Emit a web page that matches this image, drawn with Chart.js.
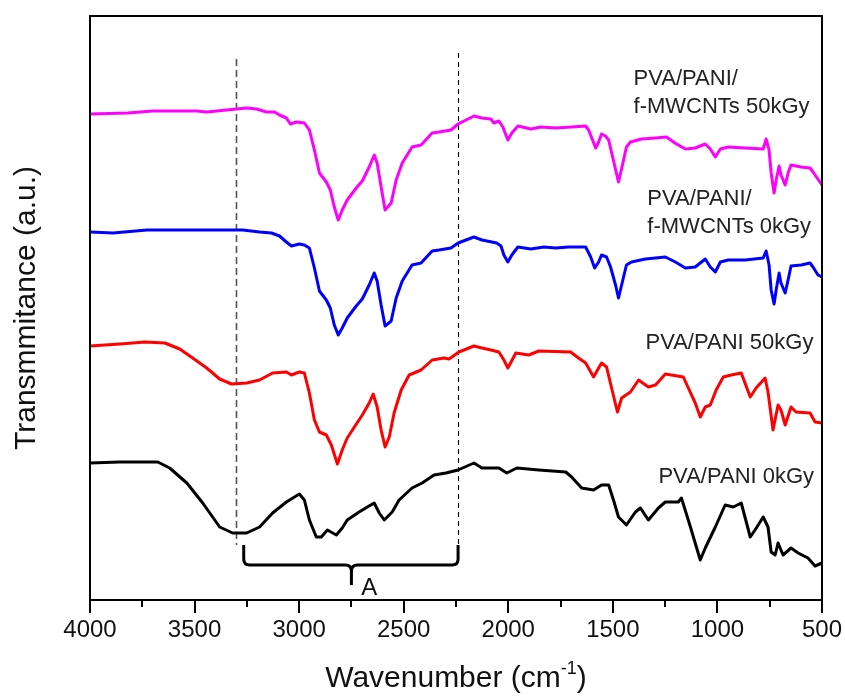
<!DOCTYPE html>
<html><head><meta charset="utf-8">
<script src="https://cdn.jsdelivr.net/npm/chart.js@4/dist/chart.umd.min.js"></script>
<style>html,body{margin:0;padding:0;background:#fff}</style>
</head><body>
<canvas id="c" width="845" height="697"></canvas>
<script>
// ---- data (wavenumber in cm-1, transmittance in arbitrary offset units) ----
const wnMag = [4000,3819,3700,3490,3442,3299,3251,3204,3156,3118,3094,3061,3042,3013,2975,2951,2927,2903,2870,2851,2832,2813,2794,2770,2727,2698,2665,2641,2627,2608,2589,2560,2536,2507,2460,2417,2364,2331,2274,2240,2164,2126,2083,2069,2045,2026,2002,1983,1954,1892,1845,1773,1697,1630,1616,1597,1582,1568,1554,1535,1520,1501,1473,1454,1435,1416,1363,1296,1244,1196,1153,1106,1058,1034,1010,986,948,867,781,767,753,743,729,719,705,696,676,662,648,600,557,543,500];
const tMag = [486,487,489,489,488,491,492,491,488,488,485,482,476,478,477,470,450,427,418,410,393,380,390,400,412,419,433,445,437,413,390,397,420,437,453,455,467,468,470,476,484,482,481,477,479,473,460,467,474,471,473,472,473,474,470,460,452,458,466,464,460,443,418,435,453,458,461,462,463,456,451,452,456,451,443,451,453,452,451,461,450,427,407,420,434,425,415,427,435,433,432,428,415];

const wnBlue = [4000,3890,3728,3571,3299,3270,3189,3132,3094,3061,3037,2999,2975,2951,2927,2903,2870,2851,2832,2813,2794,2770,2727,2698,2665,2641,2627,2608,2589,2560,2536,2507,2460,2417,2364,2331,2274,2240,2164,2126,2055,2035,2021,2002,1983,1954,1892,1830,1773,1711,1630,1606,1587,1568,1554,1530,1511,1487,1473,1458,1435,1411,1344,1249,1201,1153,1106,1058,1034,1010,986,948,867,781,767,753,743,729,719,705,696,676,662,648,600,557,543,519,500];
const tBlue = [368,367,370,370,370,370,368,367,364,358,354,356,355,352,332,309,300,292,275,265,272,282,294,301,315,327,319,295,274,279,302,319,335,337,349,350,352,357,363,360,357,354,345,338,345,353,351,353,352,353,353,343,332,338,345,343,333,315,302,315,335,338,341,343,338,332,333,341,333,328,338,340,340,342,349,335,310,296,310,327,317,307,320,334,335,337,333,325,323];

const wnRed = [4000,3857,3738,3642,3571,3509,3442,3380,3323,3251,3189,3127,3061,3037,2999,2975,2951,2927,2903,2870,2846,2817,2794,2770,2736,2698,2665,2646,2627,2608,2589,2569,2546,2512,2474,2417,2364,2307,2283,2236,2164,2126,2083,2045,2021,2002,1964,1902,1854,1702,1664,1630,1592,1568,1554,1530,1506,1478,1458,1416,1377,1330,1296,1249,1220,1163,1139,1106,1082,1058,1034,1006,972,934,886,843,815,772,758,734,710,696,676,648,624,557,533,500];
const tRed = [254,256,258,257,251,242,232,221,216,217,220,227,228,225,228,227,207,180,168,165,155,136,150,162,173,185,197,206,193,170,153,163,187,210,225,230,240,242,241,248,254,252,250,248,240,232,247,245,249,248,242,237,223,232,237,233,212,188,202,208,220,213,215,226,225,223,212,197,183,193,195,210,223,225,227,203,212,222,208,170,195,190,175,193,188,187,178,177];

const wnBlack = [4000,3857,3676,3619,3537,3461,3380,3318,3251,3189,3127,3061,2999,2975,2951,2918,2894,2865,2822,2794,2770,2713,2674,2641,2617,2593,2555,2522,2460,2412,2355,2298,2240,2164,2126,2045,2007,1959,1854,1725,1697,1649,1592,1554,1520,1497,1473,1435,1392,1368,1330,1282,1249,1187,1172,1129,1082,1058,1010,963,924,886,843,820,781,758,743,724,710,686,648,614,567,533,500];
const tBlack = [137,138,138,132,117,97,73,67,67,73,87,98,106,100,80,63,63,70,65,72,80,88,93,97,87,80,88,100,112,117,125,127,130,137,132,132,127,132,130,128,123,112,110,115,115,100,83,75,88,92,80,92,98,98,102,73,40,52,73,95,93,97,63,70,83,73,48,45,57,45,52,47,42,34,37];

const seriesNames = ['PVA/PANI/f-MWCNTs 50kGy','PVA/PANI/f-MWCNTs 0kGy','PVA/PANI 50kGy','PVA/PANI 0kGy'];
const seriesColors = ['#ff00ff','#0000ff','#ff0000','#000000'];
const xMajorTicks = [4000,3500,3000,2500,2000,1500,1000,500];
const xMinorTicks = [3750,3250,2750,2250,1750,1250,750];
const markerLines = [3300, 2240];

const FONT = "'Liberation Sans', Arial, sans-serif";
const toPts = (xs, ys) => xs.map((x, i) => ({x, y: ys[i]}));
const seriesData = [toPts(wnMag,tMag), toPts(wnBlue,tBlue), toPts(wnRed,tRed), toPts(wnBlack,tBlack)];

const decor = {
  id: 'decor',
  beforeDatasetsDraw(chart) {
    const {ctx, scales: {x, y}} = chart;
    ctx.save();
    const tops = [541, 547];
    const styles = [{c:'#555', w:1.6, d:[7,4]}, {c:'#000', w:1.1, d:[5,4]}];
    markerLines.forEach((v, i) => {
      const px = Math.round(x.getPixelForValue(v)) + 0.5;
      ctx.strokeStyle = styles[i].c; ctx.lineWidth = styles[i].w; ctx.setLineDash(styles[i].d);
      ctx.beginPath(); ctx.moveTo(px, y.getPixelForValue(tops[i])); ctx.lineTo(px, y.getPixelForValue(55)); ctx.stroke();
    });
    ctx.restore();
  },
  afterDraw(chart) {
    const {ctx, chartArea: a, scales: {x, y}} = chart;
    ctx.save();
    ctx.strokeStyle = '#000'; ctx.lineWidth = 2; ctx.setLineDash([]);
    ctx.strokeRect(a.left, a.top, a.right - a.left, a.bottom - a.top);
    xMinorTicks.forEach(v => {
      const px = Math.round(x.getPixelForValue(v));
      ctx.beginPath(); ctx.moveTo(px, a.bottom); ctx.lineTo(px, a.bottom + 7); ctx.stroke();
    });
    // bracket "A"
    const x0 = x.getPixelForValue(3265), x1 = x.getPixelForValue(2240), xm = x.getPixelForValue(2750);
    const yt = y.getPixelForValue(55), yb = y.getPixelForValue(35), yn = y.getPixelForValue(15);
    const r = 6;
    ctx.lineWidth = 3; ctx.lineJoin = 'round'; ctx.lineCap = 'butt';
    ctx.beginPath();
    ctx.moveTo(x0, yt); ctx.lineTo(x0, yb - r); ctx.quadraticCurveTo(x0, yb, x0 + r, yb);
    ctx.lineTo(xm - r, yb); ctx.quadraticCurveTo(xm, yb, xm, yb + r); ctx.lineTo(xm, yn);
    ctx.moveTo(xm, yb + r); ctx.quadraticCurveTo(xm, yb, xm + r, yb);
    ctx.lineTo(x1 - r, yb); ctx.quadraticCurveTo(x1, yb, x1, yb - r); ctx.lineTo(x1, yt);
    ctx.stroke();
    ctx.fillStyle = '#111';
    ctx.font = `24px ${FONT}`; ctx.textBaseline = 'alphabetic'; ctx.textAlign = 'center';
    ctx.fillText('A', x.getPixelForValue(2665), y.getPixelForValue(5));
    // curve labels
    ctx.textAlign = 'left'; ctx.font = `22px ${FONT}`; ctx.fillStyle = '#222';
    const labels = [
      ['PVA/PANI/', 1401, 515], ['f-MWCNTs 50kGy', 1401, 487],
      ['PVA/PANI/', 1335, 395], ['f-MWCNTs 0kGy', 1335, 367],
      ['PVA/PANI 50kGy', 1344, 251], ['PVA/PANI 0kGy', 1282, 117]
    ];
    labels.forEach(([t, wx, wy]) => ctx.fillText(t, x.getPixelForValue(wx), y.getPixelForValue(wy)));
    // x-axis title with superscript
    ctx.fillStyle = '#111';
    const main = 'Wavenumber (cm', sup = '-1', end = ')';
    ctx.font = `30px ${FONT}`; const w1 = ctx.measureText(main).width, w3 = ctx.measureText(end).width;
    ctx.font = `18px ${FONT}`; const w2 = ctx.measureText(sup).width;
    const cx = (a.left + a.right) / 2, base = 687;
    const sx = cx - (w1 + w2 + w3) / 2;
    ctx.font = `30px ${FONT}`; ctx.fillText(main, sx, base);
    ctx.font = `18px ${FONT}`; ctx.fillText(sup, sx + w1, base - 13);
    ctx.font = `30px ${FONT}`; ctx.fillText(end, sx + w1 + w2, base);
    ctx.restore();
  }
};

new Chart(document.getElementById('c'), {
  type: 'line',
  data: {
    datasets: seriesData.map((d, i) => ({
      label: seriesNames[i], data: d, borderColor: seriesColors[i], backgroundColor: seriesColors[i],
      borderWidth: 3, pointRadius: 0, tension: 0, fill: false, borderJoinStyle: 'round'
    }))
  },
  options: {
    responsive: false, animation: false, devicePixelRatio: 1,
    layout: { padding: { top: 16, right: 21, left: 0, bottom: 0 } },
    plugins: { legend: { display: false }, tooltip: { enabled: false } },
    scales: {
      x: {
        type: 'linear', reverse: true, min: 500, max: 4000,
        afterBuildTicks: s => { s.ticks = xMajorTicks.map(v => ({value: v})); },
        afterFit: s => { s.height = 97; },
        border: { display: false },
        grid: { display: true, drawOnChartArea: false, drawTicks: true, tickLength: 13, color: '#000', lineWidth: 2 },
        ticks: { color: '#111', font: { family: FONT, size: 24 }, padding: 3, maxRotation: 0, autoSkip: false,
                 callback: v => String(v) },
        title: { display: false }
      },
      y: {
        min: 0, max: 584,
        afterFit: s => { s.width = 90; },
        border: { display: false },
        grid: { display: false },
        ticks: { display: false },
        title: { display: true, text: 'Transmmitance (a.u.)', color: '#111', font: { family: FONT, size: 30 }, padding: { top: 9, bottom: 0 } }
      }
    }
  },
  plugins: [decor]
});
</script>
</body></html>
